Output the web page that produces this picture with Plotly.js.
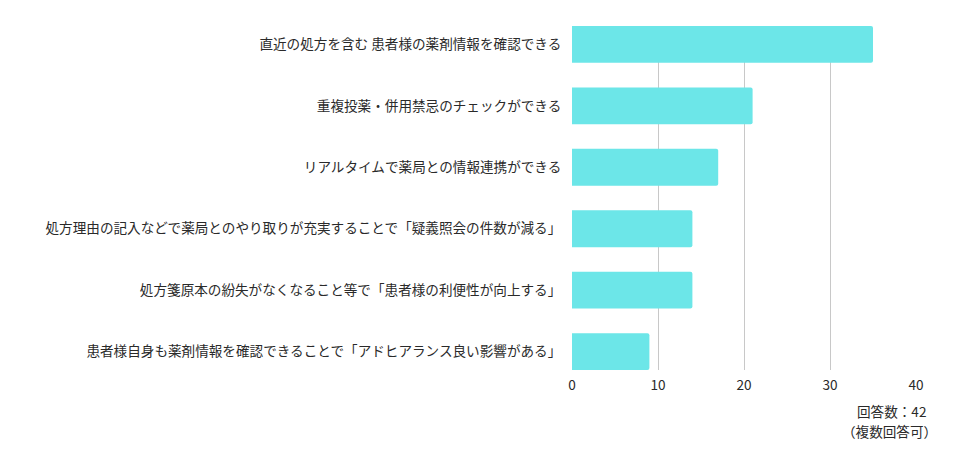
<!DOCTYPE html>
<html><head><meta charset="utf-8">
<script src="https://cdn.plot.ly/plotly-3.0.1.min.js"></script>
<style>body{margin:0;background:#fff}#c{width:976px;height:459px}</style>
</head><body><div id="c"></div>
<script>
const categories = [
  "直近の処方を含む 患者様の薬剤情報を確認できる",
  "重複投薬・併用禁忌のチェックができる",
  "リアルタイムで薬局との情報連携ができる",
  "処方理由の記入などで薬局とのやり取りが充実することで「疑義照会の件数が減る」",
  "処方箋原本の紛失がなくなること等で「患者様の利便性が向上する」",
  "患者様自身も薬剤情報を確認できることで「アドヒアランス良い影響がある」"
];
const values = [35, 21, 17, 14, 14, 9];
const xTicks = [0, 10, 20, 30, 40];
const noteLines = ["回答数：42", "（複数回答可）"];

const font = "'Noto Sans CJK JP', 'Noto Sans', sans-serif";
const txt = "#2a2a2a";
const data = [{
  type: "bar", orientation: "h",
  x: values, y: categories,
  width: 0.6,
  marker: {color: "#6ce6e8", cornerradius: 2},
  hoverinfo: "x+y"
}];
const layout = {
  width: 976, height: 459,
  margin: {l: 572, r: 60, t: 26, b: 89},
  paper_bgcolor: "#fff", plot_bgcolor: "#fff",
  font: {family: font, size: 13.6, color: txt},
  showlegend: false,
  bargap: 0.4,
  xaxis: {
    range: [0, 40], tickvals: xTicks, ticktext: xTicks.map(String),
    showgrid: true, gridcolor: "#c8c8c8", gridwidth: 1,
    zeroline: false, showline: false, ticks: "outside", ticklen: 3, tickcolor: "rgba(0,0,0,0)",
    tickfont: {family: font, size: 13.6, color: txt}, fixedrange: true
  },
  yaxis: {
    type: "category", autorange: false, range: [5.3, -0.3],
    showgrid: false, zeroline: false, showline: false,
    ticks: "outside", ticklen: 7, tickcolor: "rgba(0,0,0,0)",
    tickfont: {family: font, size: 13.6, color: txt}, fixedrange: true
  },
  annotations: [
    {xref: "paper", yref: "paper", x: 1.035, y: -0.119, xanchor: "right", yanchor: "middle",
     text: noteLines[0], showarrow: false, font: {family: font, size: 13.6, color: txt}},
    {xref: "paper", yref: "paper", x: 1.068, y: -0.178, xanchor: "right", yanchor: "middle",
     text: noteLines[1], showarrow: false, font: {family: font, size: 13.6, color: txt}}
  ]
};
Plotly.newPlot("c", data, layout, {displayModeBar: false, staticPlot: true});
</script></body></html>
